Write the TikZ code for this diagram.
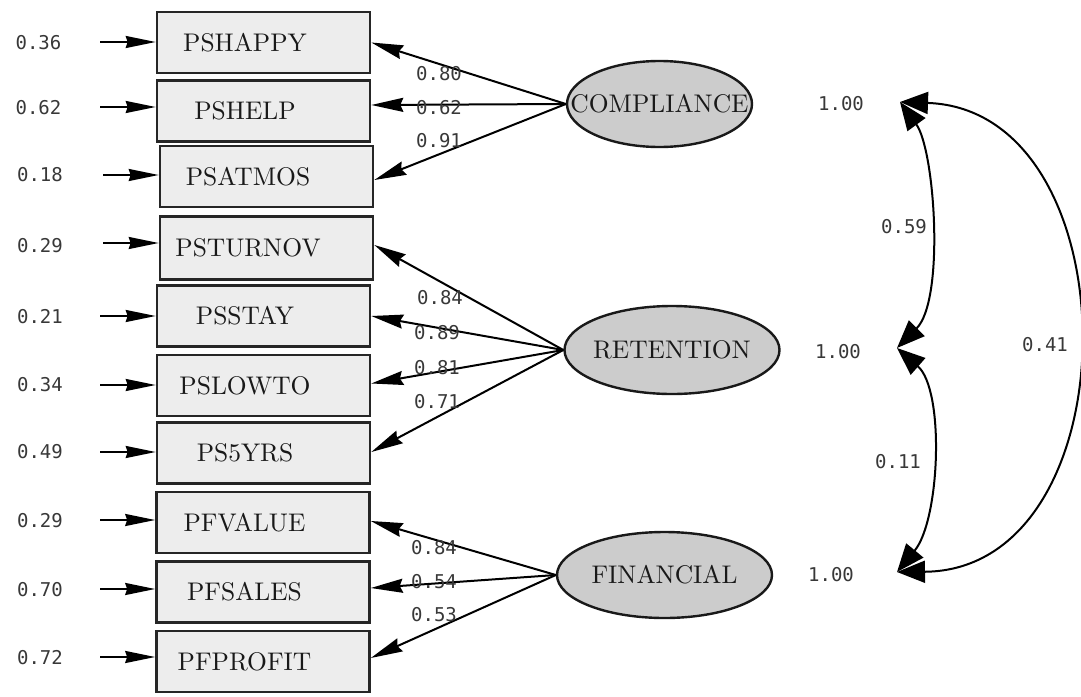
\documentclass[tikz,border=0pt]{standalone}
\usepackage{fontspec}
\newfontfamily\numfont{DejaVu Sans Mono}
\newfontfamily\boxfont{lmroman10-regular}[Extension=.otf]
\usetikzlibrary{arrows.meta,shapes.geometric}

\begin{document}
\begin{tikzpicture}[x=1pt,y=-1pt,
  obs/.style={draw=black!85, line width=2.6pt, fill=black!7, minimum width=213pt,
    minimum height=61pt, inner sep=0pt, text=black!90, font=\boxfont\fontsize{25.5}{30}\selectfont},
  lat/.style={ellipse, draw=black!90, line width=2.4pt, fill=black!20, inner sep=0pt,
    text=black!90, font=\boxfont\fontsize{25.5}{30}\selectfont},
  num/.style={font=\numfont\fontsize{19}{22}\selectfont, text=black!78, inner sep=0pt},
  err/.style={line width=2pt, -{Stealth[length=30pt,width=12pt,inset=2pt]}},
  load/.style={line width=2pt, -{Stealth[length=32pt,width=14pt,inset=3pt]}},
  cov/.style={line width=2pt,
    {Triangle[length=28pt,width=22pt]}-{Triangle[length=28pt,width=22pt]}},
]
\useasboundingbox (0,0) rectangle (1081,696);
\newcommand{\lbl}[1]{#1\hspace*{37pt}}
\newcommand{\flbl}[1]{\makebox[0pt]{#1}}

% observed indicators
\node[obs] (b1)  at (263.5,42.5)  {\lbl{PSHAPPY}};
\node[obs] (b2)  at (263.5,111)   {\lbl{PSHELP}};
\node[obs] (b3)  at (266.5,176.5) {\lbl{PSATMOS}};
\node[obs,minimum height=63pt] (b4) at (266.5,248) {\lbl{PSTURNOV}};
\node[obs] (b5)  at (263.5,316)   {\lbl{PSSTAY}};
\node[obs] (b6)  at (263.5,385.5) {\lbl{PSLOWTO}};
\node[obs] (b7)  at (263.5,453)   {\lbl{PS5YRS}};
\node[obs] (b8)  at (263,522.5)   {\lbl{PFVALUE}};
\node[obs] (b9)  at (263,592)     {\lbl{PFSALES}};
\node[obs] (b10) at (263,661.5)   {\lbl{PFPROFIT}};

% latent factors
\node[lat, minimum width=185pt, minimum height=86pt] (f1) at (659.5,104) {\flbl{COMPLIANCE}};
\node[lat, minimum width=215pt, minimum height=88pt] (f2) at (672,350)   {\flbl{RETENTION}};
\node[lat, minimum width=215pt, minimum height=86pt] (f3) at (664.5,575) {\flbl{FINANCIAL}};

% error variances
\node[num] (v1)  at (38.5,43)  {0.36};
\node[num] (v2)  at (38.5,108) {0.62};
\node[num] (v3)  at (40,175)   {0.18};
\node[num] (v4)  at (40,246)   {0.29};
\node[num] (v5)  at (40,317)   {0.21};
\node[num] (v6)  at (40,385)   {0.34};
\node[num] (v7)  at (40,452)   {0.49};
\node[num] (v8)  at (40,521)   {0.29};
\node[num] (v9)  at (40,590)   {0.70};
\node[num] (v10) at (40,658)   {0.72};

\coordinate (e1)  at (100,42);
\coordinate (e2)  at (100,107);
\coordinate (e3)  at (103,175);
\coordinate (e4)  at (103,243);
\coordinate (e5)  at (100,316);
\coordinate (e6)  at (100,385);
\coordinate (e7)  at (100,452);
\coordinate (e8)  at (100,520);
\coordinate (e9)  at (100,589);
\coordinate (e10) at (100,657);

\foreach \i in {1,...,10}{
  \draw[err] (e\i) -- (b\i.west |- e\i);
}

% factor loadings
\draw[load] (f1.west) -- (b1.east);
\draw[load] (f1.west) -- ([yshift=6pt]b2.east);
\draw[load] (f1.west) -- ([yshift=-3.5pt]b3.east);
\draw[load] (f2.west) -- ([yshift=3pt]b4.east);
\draw[load] (f2.west) -- (b5.east);
\draw[load] (f2.west) -- ([yshift=2pt]b6.east);
\draw[load] (f2.west) -- ([yshift=1pt]b7.east);
\draw[load] (f3.west) -- ([yshift=1.5pt]b8.east);
\draw[load] (f3.west) -- ([yshift=4pt]b9.east);
\draw[load] (f3.west) -- ([yshift=3.5pt]b10.east);

\node[num] (l1)  at (439,74)  {0.80};
\node[num] (l2)  at (439,108) {0.62};
\node[num] (l3)  at (439,141) {0.91};
\node[num] (l4)  at (440,298) {0.84};
\node[num] (l5)  at (437,333) {0.89};
\node[num] (l6)  at (437,368) {0.81};
\node[num] (l7)  at (437,402) {0.71};
\node[num] (l8)  at (434,548) {0.84};
\node[num] (l9)  at (434,582) {0.54};
\node[num] (l10) at (434,615) {0.53};

% factor variances and correlations
\node[num] (w1) at (841,104) {1.00};
\node[num] (w2) at (838,352) {1.00};
\node[num] (w3) at (831,575) {1.00};

\coordinate (t1) at (900,102);
\coordinate (t2) at (897,348);
\coordinate (t3) at (897,572);

\draw[cov] (t1) .. controls (935,150) and (945,300) .. (t2);
\draw[cov] (t2) .. controls (945,390) and (940,520) .. (t3);
\draw[cov] (t1) .. controls (1135,110) and (1135,570) .. (t3);

\node[num] (r1) at (904,227)  {0.59};
\node[num] (r2) at (898,462)  {0.11};
\node[num] (r3) at (1045,345) {0.41};
\end{tikzpicture}
\end{document}
